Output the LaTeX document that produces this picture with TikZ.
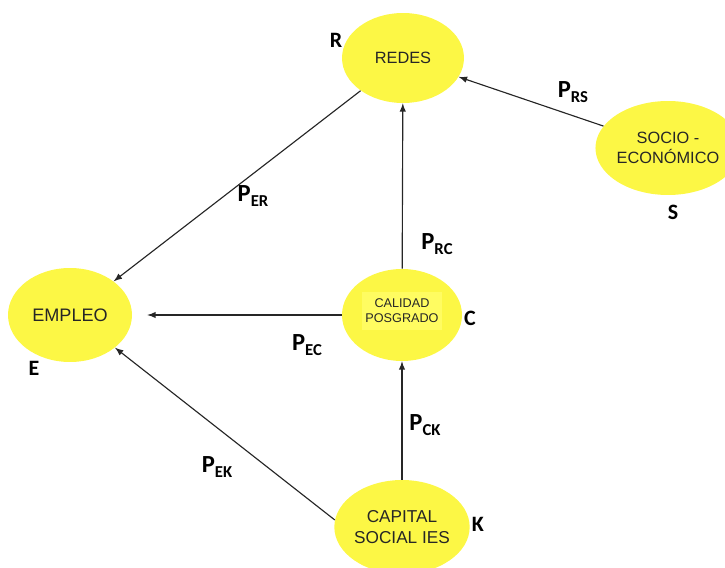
\documentclass[tikz,border=0pt]{standalone}
\usepackage{fontspec}
\setmainfont{Liberation Sans}
\newfontfamily\lblfont{Carlito}
\usetikzlibrary{arrows}
\usetikzlibrary{shapes.geometric}
\definecolor{myyellow}{rgb}{0.99,0.97,0.27}
\definecolor{boxyellow}{rgb}{1,0.99,0.38}
\newcommand{\pth}[1]{{\lblfont\bfseries\fontsize{14}{14}\selectfont P\raisebox{-0.35ex}{\fontsize{9.5}{9.5}\selectfont #1}}}

\begin{document}
\begin{tikzpicture}[>=latex, x=0.02cm, y=-0.02cm,
		var/.style={ellipse, fill=myyellow, inner sep=0pt, align=center, text=black!85},
		lett/.style={font=\lblfont\bfseries\fontsize{12.5}{12.5}\selectfont},
		path/.style={->, line width=0.65pt, black!85}]
			\useasboundingbox (0,0) rectangle (725,568);
			% The five latent variables
			\node[var, minimum width=2.44cm, minimum height=1.8cm, font=\fontsize{9.3}{10}\selectfont] (redes) at (403,58) {REDES};
			\node[var, minimum width=2.2cm, minimum height=1.88cm, font=\fontsize{9.3}{11}\selectfont] (socio) at (668,148) {SOCIO -\\ECONÓMICO};
			\node[var, minimum width=2.48cm, minimum height=1.88cm, font=\fontsize{10.3}{11}\selectfont] (empleo) at (70,315) {EMPLEO};
			\node[var, minimum width=2.4cm, minimum height=1.84cm] (calidad) at (402,315) {};
			\node[fill=boxyellow, minimum width=1.6cm, minimum height=0.76cm, inner sep=0pt, align=center, font=\fontsize{7.2}{8.5}\selectfont, text=black!85] (calidadtxt) at (402,311) {CALIDAD\\POSGRADO};
			\node[var, minimum width=2.4cm, minimum height=1.88cm, font=\fontsize{9.8}{11.5}\selectfont] (capital) at (402,527) {CAPITAL\\SOCIAL IES};
			
			% Short names beside each variable
			\node[lett] (r) at (336,40) {R};
			\node[lett] (s) at (673,212) {S};
			\node[lett] (c) at (470,318) {C};
			\node[lett] (e) at (34,368) {E};
			\node[lett] (k) at (478,524) {K};
			
			% Paths between the variables
			\draw[path] (redes) -- (empleo);
			\draw[path] (socio) -- (redes);
			\draw[path] (calidad) -- (redes);
			\draw[path, shorten >=0.3cm] (calidad) -- (empleo);
			\draw[path] (capital) -- (calidad);
			\draw[path] (capital.174) -- (empleo.-36);
			
			% Path coefficients
			\node (per) at (253,196) {\pth{ER}};
			\node (prs) at (573,92) {\pth{RS}};
			\node (prc) at (437,244) {\pth{RC}};
			\node (pec) at (307,345) {\pth{EC}};
			\node (pck) at (425,425) {\pth{CK}};
			\node (pek) at (217,467) {\pth{EK}};
			\end{tikzpicture}
\end{document}
